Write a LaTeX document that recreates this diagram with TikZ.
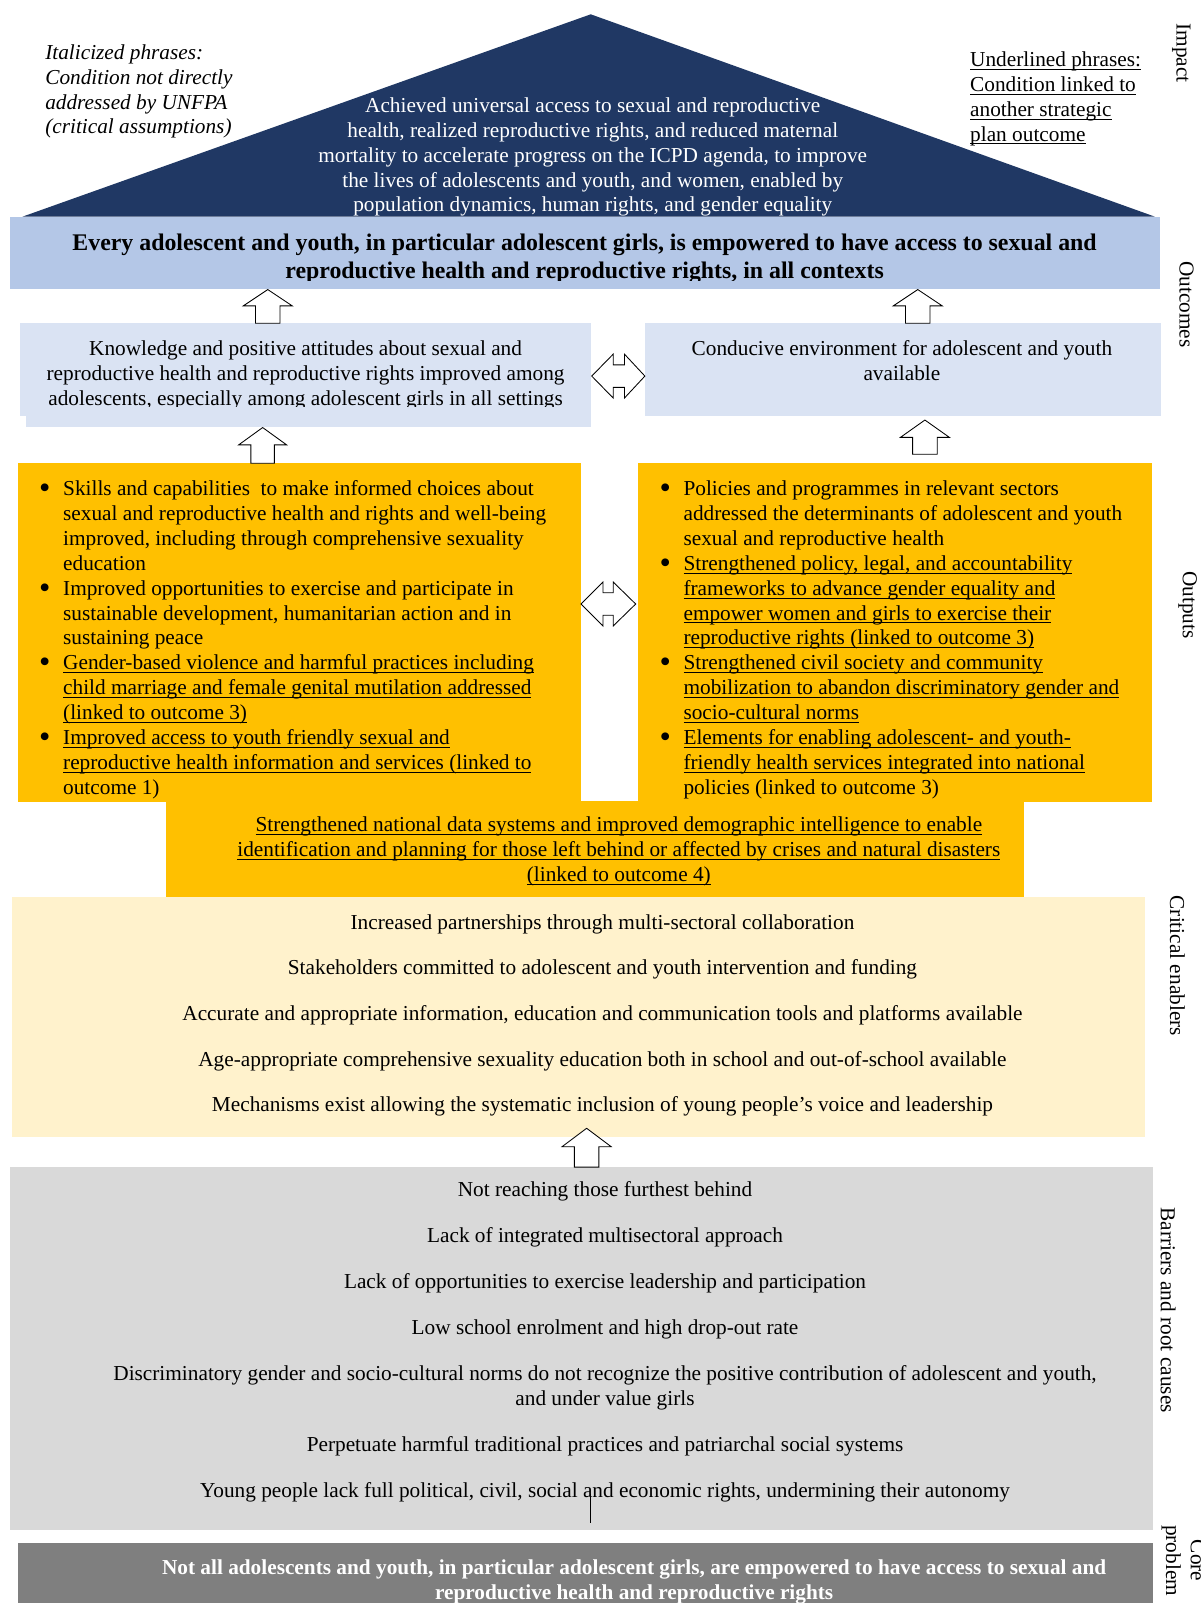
\documentclass[tikz,border=0pt]{standalone}
\usepackage{fontspec}
\setmainfont{Liberation Serif}
\usetikzlibrary{fit}
\definecolor{navy}{HTML}{203864}
\definecolor{outblue}{HTML}{B4C7E7}
\definecolor{paleblue}{HTML}{DAE3F3}
\definecolor{amber}{HTML}{FFC000}
\definecolor{cream}{HTML}{FFF2CC}
\definecolor{lgray}{HTML}{D9D9D9}
\definecolor{dgray}{HTML}{7F7F7F}
\newcommand{\ctab}[1]{\begin{tabular}[t]{@{}c@{}}#1\end{tabular}}
\newcommand{\ltab}[1]{\begin{tabular}[t]{@{}l@{}}#1\end{tabular}}
\newcommand{\btab}[1]{\begin{tabular}[t]{@{}l@{}l@{}}#1\end{tabular}}
\newcommand{\bmark}{\makebox[13.5pt][l]{\hspace{-0.6pt}\raisebox{-1.9pt}{\fontsize{19}{14}\selectfont\textbullet}}}
\newcommand{\uln}[1]{\setbox0\hbox{#1}\rlap{\rule[-2.0pt]{\wd0}{0.55pt}}\box0}
\tikzset{
  txt/.style={inner sep=0pt, yshift=-2.1pt, font=\fontsize{12.5}{14.6}\selectfont},
  boldtxt/.style={inner sep=0pt, yshift=-2.1pt, font=\fontsize{12.5}{14.4}\selectfont\bfseries},
  bigbold/.style={inner sep=0pt, yshift=-2.1pt, font=\fontsize{14}{16.2}\selectfont\bfseries},
  ittxt/.style={inner sep=0pt, yshift=-2.1pt, font=\fontsize{12.5}{14.6}\selectfont\itshape},
  sidelab/.style={inner sep=0pt, rotate=-90, font=\fontsize{12.5}{14.6}\selectfont},
  box/.style={inner sep=0pt, draw=none},
  blockarrow/.style={draw=black, fill=white, line width=0.5pt, line join=miter},
  pics/uparr/.style n args={4}{code={
    \draw[blockarrow] (0,0) -- (-#2,#3) -- (-#4,#3) -- (-#4,#1) -- (#4,#1) -- (#4,#3) -- (#2,#3) -- cycle;
  }},
  pics/dblarr/.style n args={5}{code={
    \draw[blockarrow] (0,0) -- (#2,-#4) -- (#2,-#5) -- (#3,-#5) -- (#3,-#4) -- (#1,0)
      -- (#3,#4) -- (#3,#5) -- (#2,#5) -- (#2,#4) -- cycle;
  }}
}
\begin{document}
\begin{tikzpicture}[x=0.6pt,y=-0.6pt]
\useasboundingbox (0,0) rectangle (1174.2,1568.5);

% ---------- Impact ----------
\fill[navy] (22,212) -- (578,14) -- (1130,212) -- cycle;
\node[txt, text=white, anchor=base] (impact) at (580,106.5) {\ctab{Achieved universal access to sexual and reproductive\\
health, realized reproductive rights, and reduced maternal\\
mortality to accelerate progress on the ICPD agenda, to improve\\
the lives of adolescents and youth, and women, enabled by\\
population dynamics, human rights, and gender equality}};

\node[ittxt, anchor=base west] (legit) at (44,54.5) {\ltab{Italicized phrases:\\ Condition not directly\\ addressed by UNFPA\\ (critical assumptions)}};
\node[txt, anchor=base west] (legul) at (949,61.5) {\ltab{\uln{Underlined phrases:}\\ \uln{Condition linked to}\\ \uln{another strategic}\\ \uln{plan outcome}}};

% ---------- Outcome bar ----------
\node[box, fill=outblue, fit={(10,212) (1135,283)}] (outbar) {};
\begin{scope}
\clip (10,212) rectangle (1135,274);
\node[bigbold, anchor=base] (outtext) at (572,242) {\ctab{Every adolescent and youth, in particular adolescent girls, is empowered to have access to sexual and\\
reproductive health and reproductive rights, in all contexts}};
\end{scope}

% ---------- Outcome boxes ----------
\node[box, fill=paleblue, fit={(20,316) (578,407)}] (lboxa) {};
\node[box, fill=paleblue, fit={(25,316) (578,418)}] (lbox) {};
\begin{scope}
\clip (20,316) rectangle (578,398);
\node[txt, anchor=base] (ltext) at (299,344.5) {\ctab{Knowledge and positive attitudes about sexual and\\
reproductive health and reproductive rights improved among\\
adolescents, especially among adolescent girls in all settings}};
\end{scope}
\node[box, fill=paleblue, fit={(631,316) (1136,407)}] (rbox) {};
\node[txt, anchor=base] (rtext) at (882.5,344.5) {\ctab{Conducive environment for adolescent and youth\\ available}};

\pic at (262,0 |- outbar.south) {uparr={33}{24}{16}{12}};
\pic at (898,0 |- outbar.south) {uparr={33}{24}{16}{12}};
\pic at (579,368) {dblarr={52}{21}{32}{21.5}{11}};

% ---------- Outputs ----------
\node[box, fill=amber, fit={(18,453) (568,785)}] (outl) {};
\node[box, fill=amber, fit={(624,453) (1127,785)}] (outr) {};
\node[box, fill=amber, fit={(162,784) (1002,878)}] (outm) {};

\pic at (257,0 |- lbox.south) {uparr={35}{23.5}{17}{11.5}};
\pic at (905,411) {uparr={33.5}{24}{17}{12}};
\pic at (568.5,591) {dblarr={53.5}{21.5}{31.5}{21.5}{11}};

\node[txt, anchor=base west] (llist) at (39,481.5) {\btab{%
\bmark & Skills and capabilities\ \ to make informed choices about\\
 & sexual and reproductive health and rights and well-being\\
 & improved, including through comprehensive sexuality\\
 & education\\
\bmark & Improved opportunities to exercise and participate in\\
 & sustainable development, humanitarian action and in\\
 & sustaining peace\\
\bmark & \uln{Gender-based violence and harmful practices including}\\
 & \uln{child marriage and female genital mutilation addressed}\\
 & \uln{(linked to outcome 3)}\\
\bmark & \uln{Improved access to youth friendly sexual and}\\
 & \uln{reproductive health information and services (linked to}\\
 & outcome 1)}};

\node[txt, anchor=base west] (rlist) at (646,481.5) {\btab{%
\bmark & Policies and programmes in relevant sectors\\
 & addressed the determinants of adolescent and youth\\
 & sexual and reproductive health\\
\bmark & \uln{Strengthened policy, legal, and accountability}\\
 & \uln{frameworks to advance gender equality and}\\
 & \uln{empower women and girls to exercise their}\\
 & \uln{reproductive rights (linked to outcome 3)}\\
\bmark & \uln{Strengthened civil society and community}\\
 & \uln{mobilization to abandon discriminatory gender and}\\
 & \uln{socio-cultural norms}\\
\bmark & \uln{Elements for enabling adolescent- and youth-}\\
 & \uln{friendly health services integrated into national}\\
 & policies (linked to outcome 3)}};

\node[txt, anchor=base] (midtext) at (605.5,810.5) {\ctab{\uln{Strengthened national data systems and improved demographic intelligence to enable}\\
\uln{identification and planning for those left behind or affected by crises and natural disasters}\\
\uln{(linked to outcome 4)}}};

% ---------- Critical enablers ----------
\node[box, fill=cream, fit={(12,878) (1120,1112.5)}] (enab) {};
\node[txt, anchor=base] (e1) at (589.5,905.5) {Increased partnerships through multi-sectoral collaboration};
\node[txt, anchor=base] (e2) at (589.5,950.5) {Stakeholders committed to adolescent and youth intervention and funding};
\node[txt, anchor=base] (e3) at (589.5,995.5) {Accurate and appropriate information, education and communication tools and platforms available};
\node[txt, anchor=base] (e4) at (589.5,1040.5) {Age-appropriate comprehensive sexuality education both in school and out-of-school available};
\node[txt, anchor=base] (e5) at (589.5,1084.5) {Mechanisms exist allowing the systematic inclusion of young people’s voice and leadership};

% ---------- Barriers ----------
\node[box, fill=lgray, fit={(10,1142) (1128,1497)}] (barr) {};
\pic at (574,1104) {uparr={38}{24}{18}{12}};
\node[txt, anchor=base] (b1) at (592,1167.5) {Not reaching those furthest behind};
\node[txt, anchor=base] (b2) at (592,1212.5) {Lack of integrated multisectoral approach};
\node[txt, anchor=base] (b3) at (592,1257.5) {Lack of opportunities to exercise leadership and participation};
\node[txt, anchor=base] (b4) at (592,1302.5) {Low school enrolment and high drop-out rate};
\node[txt, anchor=base] (b5) at (592,1347.5) {\ctab{Discriminatory gender and socio-cultural norms do not recognize the positive contribution of adolescent and youth,\\ and under value girls}};
\node[txt, anchor=base] (b6) at (592,1416.5) {Perpetuate harmful traditional practices and patriarchal social systems};
\node[txt, anchor=base] (b7) at (592,1461.5) {Young people lack full political, civil, social and economic rights, undermining their autonomy};
\coordinate (stubtop) at (578,1462);
\coordinate (stubbot) at (578,1490);
\draw[line width=0.7pt] (stubtop) -- (stubbot);

% ---------- Core problem ----------
\node[box, fill=dgray, fit={(18,1510) (1128,1570)}] (core) {};
\node[boldtxt, text=white, anchor=base] (coretext) at (620.5,1537.5) {\ctab{Not all adolescents and youth, in particular adolescent girls, are empowered to have access to sexual and\\
reproductive health and reproductive rights}};

% ---------- Side labels ----------
\node[sidelab] (limpact) at (1156,52) {Impact};
\node[sidelab] (loutc) at (1161,298) {Outcomes};
\node[sidelab] (loutp) at (1162,592) {Outputs};
\node[sidelab] (lenab) at (1152,945) {Critical enablers};
\node[sidelab] (lbarr) at (1143,1282) {Barriers and root causes};
\node[sidelab] (lcore) at (1158,1527) {\ctab{Core\\ problem}};
\end{tikzpicture}
\end{document}
